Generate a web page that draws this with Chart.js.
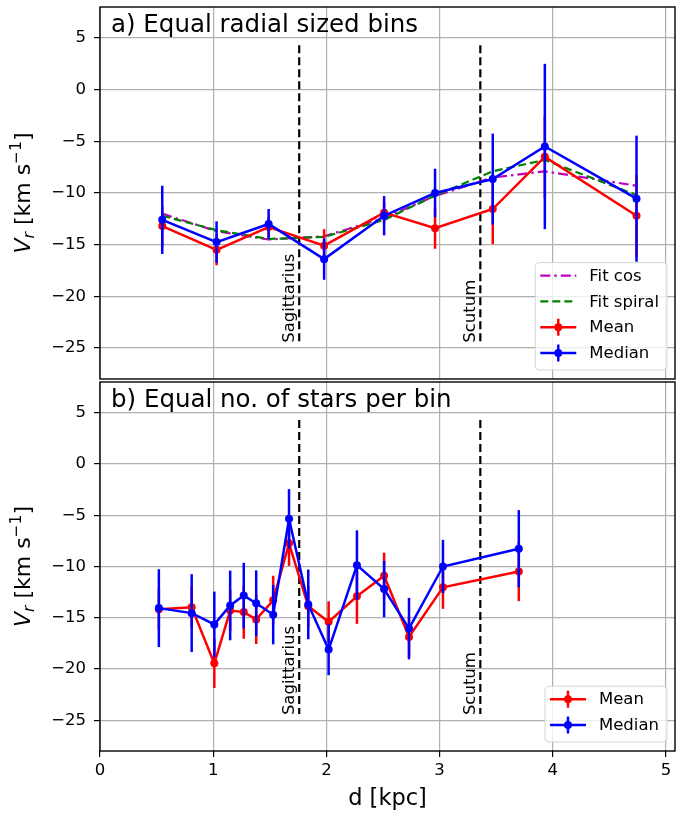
<!DOCTYPE html>
<html>
<head>
<meta charset="utf-8">
<script src="https://cdn.jsdelivr.net/npm/chart.js@4.4.1/dist/chart.umd.min.js"></script>
<style>
  body { margin: 0; background: #fff; }
  canvas { position: absolute; left: 0; }
  #panel-a { top: 0; }
  #panel-b { top: 378px; }
</style>
</head>
<body>
<canvas id="panel-a" width="679" height="383"></canvas>
<canvas id="panel-b" width="679" height="435"></canvas>
<script>
// --- data ---
// a) equal radial sized bins
var binsA_d = [0.55, 1.03, 1.49, 1.98, 2.51, 2.96, 3.47, 3.93, 4.74];
var meanA = [-13.2, -15.5, -13.3, -15.1, -11.9, -13.4, -11.55, -6.5, -12.2];
var meanA_err = [2.0, 1.5, 1.0, 1.6, 1.0, 2.0, 3.4, 4.0, 4.0];
var medianA = [-12.6, -14.75, -13.0, -16.4, -12.2, -10.0, -8.65, -5.5, -10.55];
var medianA_err = [3.3, 2.0, 1.45, 2.0, 1.9, 2.35, 4.4, 8.0, 6.1];
var fitCos = [-12.0, -13.7, -14.5, -14.2, -12.4, -10.3, -8.5, -7.9, -9.3];
var fitSpiral = [-12.2, -13.6, -14.45, -14.25, -12.6, -10.25, -7.9, -6.8, -10.2];

// b) equal no. of stars per bin
var binsB_d = [0.52, 0.81, 1.01, 1.15, 1.27, 1.38, 1.53, 1.67, 1.84, 2.02, 2.27, 2.51, 2.73, 3.03, 3.70];
var meanB = [-14.16, -13.97, -19.45, -14.3, -14.45, -15.16, -13.3, -7.74, -13.87, -15.4, -12.9, -10.9, -16.87, -12.03, -10.48];
var meanB_err = [2.0, 2.0, 2.4, 2.0, 2.6, 2.4, 2.4, 2.2, 2.0, 2.0, 2.7, 2.25, 2.0, 2.1, 2.9];
var medianB = [-14.06, -14.55, -15.65, -13.8, -12.84, -13.58, -14.7, -5.35, -13.7, -18.1, -9.87, -12.2, -16.06, -10.0, -8.26];
var medianB_err = [3.8, 3.8, 3.2, 3.4, 3.2, 3.2, 2.9, 2.9, 3.4, 2.5, 3.4, 2.75, 3.0, 2.6, 3.76];

// spiral arm positions
var armNames = ['Sagittarius', 'Scutum'];
var armD = [1.76, 3.36];
var armVtop = 4.3;
var armVbottom = -24.4;

var xTicks = [0, 1, 2, 3, 4, 5];
var yTicks = [-25, -20, -15, -10, -5, 0, 5];

var FONT = '"DejaVu Sans"';

function pts(xs, ys) {
  return xs.map(function (x, i) { return { x: x, y: ys[i] }; });
}

function errSeries(label, color, xs, ys, errs, order) {
  return {
    label: label, data: pts(xs, ys), err: errs, order: order,
    showLine: true, borderColor: color, backgroundColor: color,
    borderWidth: 2.5, pointRadius: 4, pointBorderWidth: 0
  };
}

function armSeries() {
  return armD.map(function (d) {
    return {
      data: [{ x: d, y: armVtop }, { x: d, y: armVbottom }],
      showLine: true, borderColor: '#000', borderWidth: 2.2,
      borderDash: [8, 4], pointRadius: 0, order: 9
    };
  });
}

// error bars, arm labels, frame, titles, legend
var decor = {
  id: 'decor',
  afterDatasetDraw: function (chart, args) {
    var ds = chart.data.datasets[args.index];
    if (!ds.err) return;
    var ctx = chart.ctx, xs = chart.scales.x, ys = chart.scales.y;
    ctx.save();
    ctx.strokeStyle = ds.borderColor;
    ctx.lineWidth = 2.5;
    ds.data.forEach(function (p, i) {
      var px = xs.getPixelForValue(p.x);
      ctx.beginPath();
      ctx.moveTo(px, ys.getPixelForValue(p.y + ds.err[i]));
      ctx.lineTo(px, ys.getPixelForValue(p.y - ds.err[i]));
      ctx.stroke();
    });
    ctx.restore();
  },
  afterDraw: function (chart) {
    var o = chart.options.plugins.decor;
    var ctx = chart.ctx, a = chart.chartArea;
    var xs = chart.scales.x, ys = chart.scales.y;
    ctx.save();

    // arm labels
    ctx.fillStyle = '#000';
    ctx.font = '16.5px ' + FONT;
    ctx.textAlign = 'left';
    ctx.textBaseline = 'alphabetic';
    armNames.forEach(function (name, i) {
      ctx.save();
      ctx.translate(xs.getPixelForValue(armD[i]) - 5, ys.getPixelForValue(armVbottom) + 1);
      ctx.rotate(-Math.PI / 2);
      ctx.fillText(name, 0, 0);
      ctx.restore();
    });

    // frame
    ctx.strokeStyle = '#000';
    ctx.lineWidth = 1.4;
    ctx.strokeRect(a.left, a.top, a.right - a.left, a.bottom - a.top);

    // panel title
    ctx.font = '24.5px ' + FONT;
    ctx.fillStyle = '#000';
    ctx.fillText(o.title, a.left + 11, a.top + 24.5);

    // y label: V_r [km s^-1]
    var parts = [
      { t: 'V', f: 'italic 22px ' + FONT, dy: 0 },
      { t: 'r', f: 'italic 15.5px ' + FONT, dy: 4 },
      { t: ' [km s', f: '22px ' + FONT, dy: 0 },
      { t: '\u22121', f: '15.5px ' + FONT, dy: -9 },
      { t: ']', f: '22px ' + FONT, dy: 0 }
    ];
    var total = 0;
    parts.forEach(function (p) { ctx.font = p.f; p.w = ctx.measureText(p.t).width; total += p.w; });
    ctx.save();
    ctx.translate(22, (a.top + a.bottom) / 2);
    ctx.rotate(-Math.PI / 2);
    var cx = -total / 2;
    parts.forEach(function (p) {
      ctx.font = p.f;
      ctx.fillText(p.t, cx, 8 + p.dy);
      cx += p.w;
    });
    ctx.restore();

    // x label
    if (o.xLabel) {
      ctx.font = '22.5px ' + FONT;
      ctx.textAlign = 'center';
      ctx.fillText(o.xLabel, (a.left + a.right) / 2, chart.height - 8);
      ctx.textAlign = 'left';
    }

    // legend
    var items = o.legend;
    ctx.font = '16.5px ' + FONT;
    var textW = Math.max.apply(null, items.map(function (it) { return ctx.measureText(it.label).width; }));
    var handle = 36, padL = 5, gap = 13, padR = 8, rowH = 25.8;
    var w = padL + handle + gap + textW + padR;
    var h = 13 + (items.length - 1) * rowH + 17;
    var x0 = a.right - 8 - w, y0 = a.bottom - 9 - h;
    ctx.beginPath();
    ctx.roundRect(x0, y0, w, h, 4);
    ctx.fillStyle = 'rgba(255,255,255,0.8)';
    ctx.fill();
    ctx.strokeStyle = 'rgba(204,204,204,0.8)';
    ctx.lineWidth = 1;
    ctx.stroke();
    items.forEach(function (it, i) {
      var cy = y0 + 13 + i * rowH;
      var hx = x0 + padL;
      ctx.strokeStyle = it.color;
      ctx.lineWidth = it.err ? 2.5 : 2.2;
      ctx.setLineDash(it.dash || []);
      ctx.beginPath();
      ctx.moveTo(hx, cy);
      ctx.lineTo(hx + handle, cy);
      ctx.stroke();
      ctx.setLineDash([]);
      if (it.err) {
        ctx.beginPath();
        ctx.moveTo(hx + handle / 2, cy - 8.5);
        ctx.lineTo(hx + handle / 2, cy + 8.5);
        ctx.stroke();
        ctx.beginPath();
        ctx.arc(hx + handle / 2, cy, 4, 0, Math.PI * 2);
        ctx.fillStyle = it.color;
        ctx.fill();
      }
      ctx.fillStyle = '#000';
      ctx.textBaseline = 'middle';
      ctx.fillText(it.label, hx + handle + gap, cy + 1);
      ctx.textBaseline = 'alphabetic';
    });
    ctx.restore();
  }
};

function makePanel(id, datasets, opts) {
  return new Chart(document.getElementById(id), {
    type: 'scatter',
    data: { datasets: datasets },
    plugins: [decor],
    options: {
      responsive: false,
      animation: false,
      events: [],
      layout: { padding: { top: opts.padTop, right: 1, bottom: 0, left: 0 } },
      plugins: {
        legend: { display: false },
        tooltip: { enabled: false },
        decor: { title: opts.title, legend: opts.legend, xLabel: opts.xLabel }
      },
      scales: {
        x: {
          type: 'linear', min: 0, max: 5.08,
          afterBuildTicks: function (s) { s.ticks = xTicks.map(function (v) { return { value: v }; }); },
          afterFit: function (s) { s.height = opts.xHeight; s.paddingLeft = 0; s.paddingRight = 0; },
          border: { display: false },
          grid: { color: '#b0b0b0', lineWidth: 1.2, drawTicks: opts.showX, tickLength: 6, tickColor: '#000', tickWidth: 1.2 },
          ticks: { display: opts.showX, font: { family: 'DejaVu Sans', size: 16.5 }, color: '#000', padding: 4, maxRotation: 0 }
        },
        y: {
          min: -28, max: 8,
          afterBuildTicks: function (s) { s.ticks = yTicks.map(function (v) { return { value: v }; }); },
          afterFit: function (s) { s.width = 100; s.paddingTop = 0; s.paddingBottom = 0; },
          border: { display: false },
          grid: { color: '#b0b0b0', lineWidth: 1.2, tickLength: 6, tickColor: '#000', tickWidth: 1.2 },
          ticks: {
            font: { family: 'DejaVu Sans', size: 16.5 }, color: '#000', padding: 8,
            callback: function (v) { return String(v).replace('-', '\u2212'); }
          }
        }
      }
    }
  });
}

var magenta = '#bf00bf', green = '#008000', red = '#ff0000', blue = '#0000ff';
var dashCos = [10, 4, 2.5, 4], dashSpiral = [8, 4];

makePanel('panel-a', [
  errSeries('Median', blue, binsA_d, medianA, medianA_err, 1),
  errSeries('Mean', red, binsA_d, meanA, meanA_err, 2),
  { label: 'Fit spiral', data: pts(binsA_d, fitSpiral), showLine: true, borderColor: green,
    borderWidth: 2.2, borderDash: dashSpiral, pointRadius: 0, order: 3 },
  { label: 'Fit cos', data: pts(binsA_d, fitCos), showLine: true, borderColor: magenta,
    borderWidth: 2.2, borderDash: dashCos, pointRadius: 0, order: 4 }
].concat(armSeries()), {
  title: 'a) Equal radial sized bins', padTop: 7, xHeight: 1, showX: false,
  legend: [
    { label: 'Fit cos', color: magenta, dash: dashCos },
    { label: 'Fit spiral', color: green, dash: dashSpiral },
    { label: 'Mean', color: red, err: true },
    { label: 'Median', color: blue, err: true }
  ]
});

makePanel('panel-b', [
  errSeries('Median', blue, binsB_d, medianB, medianB_err, 1),
  errSeries('Mean', red, binsB_d, meanB, meanB_err, 2)
].concat(armSeries()), {
  title: 'b) Equal no. of stars per bin', padTop: 0, xHeight: 62, showX: true, xLabel: 'd [kpc]',
  legend: [
    { label: 'Mean', color: red, err: true },
    { label: 'Median', color: blue, err: true }
  ]
});
</script>
</body>
</html>
